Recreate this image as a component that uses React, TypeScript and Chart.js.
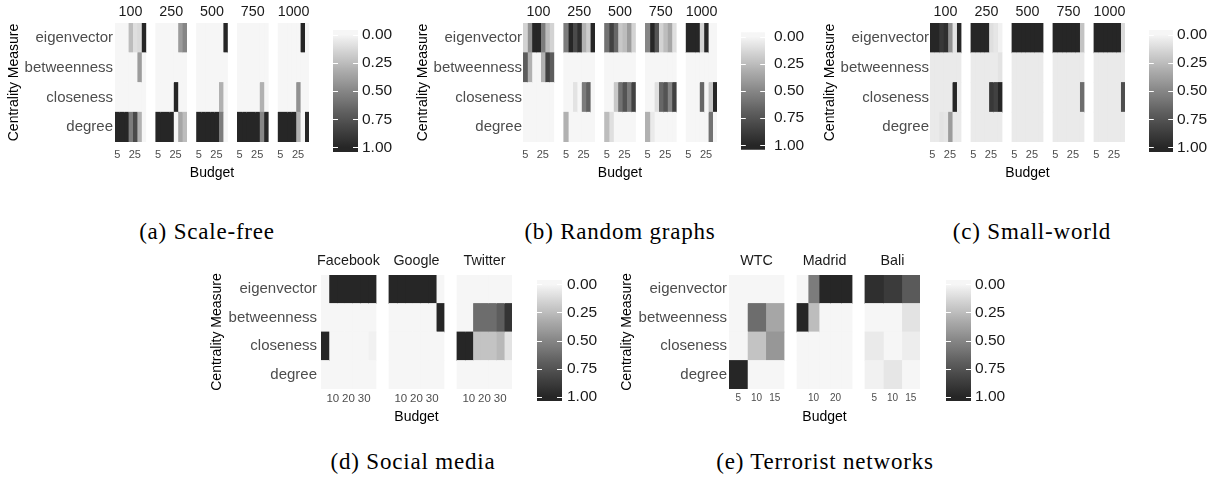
import React, { useEffect, useRef } from 'react';
import { Chart, registerables } from 'chart.js';

Chart.register(...registerables);

const SANS = "'Liberation Sans', Arial, Helvetica, sans-serif";
const SERIF = "'Liberation Serif', 'Times New Roman', serif";
Chart.defaults.font.family = SANS;

// ---------------- DATA ----------------
const MEASURES = ['eigenvector', 'betweenness', 'closeness', 'degree'];

const BUDGETS_7 = [5, 10, 15, 20, 25, 30, 35];
const BUDGETS_3 = [5, 10, 15];
const BUDGETS_5 = [5, 10, 15, 20, 25];

const TICKS_SYN = [5, 25];
const TICKS_SOCIAL = [10, 20, 30];
const TICKS_WTC = [5, 10, 15];
const TICKS_MADRID = [10, 20];
const TICKS_BALI = [5, 10, 15];

const NODE_LABELS = ['100', '250', '500', '750', '1000'];
const SOCIAL_LABELS = ['Facebook', 'Google', 'Twitter'];
const TERROR_LABELS = ['WTC', 'Madrid', 'Bali'];
const LEGEND_BREAKS = [0, 0.25, 0.5, 0.75, 1];

const CAPTIONS = ['(a) Scale-free', '(b) Random graphs', '(c) Small-world', '(d) Social media', '(e) Terrorist networks'];

// rows: eigenvector, betweenness, closeness, degree ; columns: budgets
// (a) Scale-free
const SF_100 = [
  [0, 0, 0, 0.25, 0.1, 0.12, 1],
  [0, 0, 0, 0, 0, 0.4, 0],
  [0, 0, 0, 0, 0, 0, 0],
  [1, 1, 1, 0.55, 0.8, 0.3, 0],
];
const SF_250 = [
  [0, 0, 0, 0, 0, 0.4, 0.5],
  [0, 0, 0, 0, 0, 0, 0],
  [0, 0, 0, 0, 1, 0, 0],
  [1, 1, 1, 1, 0, 0.35, 0.25],
];
const SF_500 = [
  [0, 0, 0, 0, 0, 0, 1],
  [0, 0, 0, 0, 0, 0, 0],
  [0, 0, 0, 0, 0, 0.3, 0],
  [1, 1, 1, 1, 1, 0.55, 0],
];
const SF_750 = [
  [0, 0, 0, 0, 0, 0, 0],
  [0, 0, 0, 0, 0, 0, 0],
  [0, 0, 0, 0, 0, 0.3, 0],
  [1, 1, 1, 1, 1, 0.5, 1],
];
const SF_1000 = [
  [0, 0, 0, 0, 0, 1, 0],
  [0, 0, 0, 0, 0, 0, 0],
  [0, 0, 0, 0, 0.45, 0, 0],
  [1, 1, 1, 1, 0.3, 0, 1],
];

// (b) Random graphs
const RG_100 = [
  [0.15, 0.45, 1, 1, 0.55, 0.25, 0.15],
  [0.7, 0.3, 0, 0, 0.3, 0.85, 0.7],
  [0, 0, 0, 0, 0, 0, 0],
  [0, 0, 0, 0, 0, 0, 0],
];
const RG_250 = [
  [0.55, 1, 0.8, 0.95, 0.3, 0.18, 1],
  [0, 0, 0, 0, 0, 0, 0],
  [0, 0, 0.08, 0, 0.55, 0.68, 0],
  [0.3, 0, 0, 0, 0, 0, 0],
];
const RG_500 = [
  [0.6, 0.85, 0.65, 0.2, 0.25, 0.4, 0.15],
  [0, 0, 0, 0, 0, 0, 0],
  [0, 0, 0.2, 0.6, 0.75, 0.55, 0.85],
  [0.25, 0.1, 0, 0, 0, 0, 0],
];
const RG_750 = [
  [0.5, 1, 0.75, 0.15, 0.25, 0.35, 0.1],
  [0, 0, 0, 0, 0, 0, 0],
  [0, 0, 0.1, 0.65, 0.75, 0.5, 0.85],
  [0.3, 0.05, 0, 0, 0, 0, 0],
];
const RG_1000 = [
  [1, 1, 1, 0.15, 1, 0, 0],
  [0, 0, 0, 0, 0, 0, 0],
  [0, 0, 0, 0.65, 0, 0.2, 1],
  [0, 0, 0, 0, 0, 0.6, 0],
];

// (c) Small-world
const SW_100 = [
  [1, 1, 0.9, 0.95, 0.45, 0.08, 1],
  [0.05, 0.05, 0.05, 0.05, 0.05, 0.05, 0.05],
  [0.05, 0.05, 0.05, 0.05, 0.05, 1, 0.05],
  [0.05, 0.05, 0.08, 0.07, 0.4, 0.05, 0.05],
];
const SW_250 = [
  [1, 1, 1, 1, 0.1, 0.07, 0.02],
  [0.05, 0.05, 0.05, 0.05, 0.05, 0.05, 0.08],
  [0.05, 0.05, 0.05, 0.05, 0.9, 0.85, 1],
  [0.05, 0.05, 0.05, 0.05, 0.05, 0.05, 0.05],
];
const SW_500 = [
  [1, 1, 1, 1, 1, 1, 1],
  [0.05, 0.05, 0.05, 0.05, 0.05, 0.05, 0.05],
  [0.05, 0.05, 0.05, 0.05, 0.05, 0.05, 0.05],
  [0.05, 0.05, 0.05, 0.05, 0.05, 0.05, 0.05],
];
const SW_750 = [
  [1, 1, 1, 1, 1, 1, 0.22],
  [0.05, 0.05, 0.05, 0.05, 0.05, 0.05, 0.05],
  [0.05, 0.05, 0.05, 0.05, 0.05, 0.05, 0.62],
  [0.05, 0.05, 0.05, 0.05, 0.05, 0.05, 0.05],
];
const SW_1000 = [
  [1, 1, 1, 1, 1, 1, 0.12],
  [0.05, 0.05, 0.05, 0.05, 0.05, 0.05, 0.05],
  [0.05, 0.05, 0.05, 0.05, 0.05, 0.05, 0.78],
  [0.05, 0.05, 0.05, 0.05, 0.05, 0.05, 0.05],
];

// (d) Social media
const SM_FACEBOOK = [
  [0, 1, 1, 1, 1, 1, 1],
  [0, 0, 0, 0, 0, 0, 0],
  [1, 0, 0, 0, 0, 0, 0.02],
  [0, 0, 0, 0, 0, 0, 0],
];
const SM_GOOGLE = [
  [1, 1, 1, 1, 1, 1, 0],
  [0, 0, 0, 0, 0, 0, 1],
  [0, 0, 0, 0, 0, 0, 0],
  [0, 0, 0, 0, 0, 0, 0],
];
const SM_TWITTER = [
  [0, 0, 0, 0, 0, 0, 0],
  [0, 0, 0.62, 0.62, 0.62, 0.7, 0.92],
  [1, 1, 0.22, 0.22, 0.22, 0.27, 0.08],
  [0, 0, 0, 0, 0, 0, 0],
];

// (e) Terrorist networks
const TN_WTC = [
  [0, 0, 0],
  [0, 0.62, 0.35],
  [0, 0.22, 0.42],
  [1, 0, 0],
];
const TN_MADRID = [
  [0, 0.55, 1, 1, 1],
  [1, 0.25, 0, 0, 0],
  [0, 0, 0, 0, 0],
  [0, 0, 0, 0, 0],
];
const TN_BALI = [
  [0.95, 0.88, 0.72],
  [0, 0, 0.08],
  [0.05, 0, 0.04],
  [0.02, 0.07, 0],
];

// ---------------- FIGURE DEFINITIONS ----------------
const FIG_A = {
  names: NODE_LABELS,
  values: [SF_100, SF_250, SF_500, SF_750, SF_1000],
  budgets: [BUDGETS_7, BUDGETS_7, BUDGETS_7, BUDGETS_7, BUDGETS_7],
  ticks: [TICKS_SYN, TICKS_SYN, TICKS_SYN, TICKS_SYN, TICKS_SYN],
};
const FIG_B = {
  names: NODE_LABELS,
  values: [RG_100, RG_250, RG_500, RG_750, RG_1000],
  budgets: [BUDGETS_7, BUDGETS_7, BUDGETS_7, BUDGETS_7, BUDGETS_7],
  ticks: [TICKS_SYN, TICKS_SYN, TICKS_SYN, TICKS_SYN, TICKS_SYN],
};
const FIG_C = {
  names: NODE_LABELS,
  values: [SW_100, SW_250, SW_500, SW_750, SW_1000],
  budgets: [BUDGETS_7, BUDGETS_7, BUDGETS_7, BUDGETS_7, BUDGETS_7],
  ticks: [TICKS_SYN, TICKS_SYN, TICKS_SYN, TICKS_SYN, TICKS_SYN],
};
const FIG_D = {
  names: SOCIAL_LABELS,
  values: [SM_FACEBOOK, SM_GOOGLE, SM_TWITTER],
  budgets: [BUDGETS_7, BUDGETS_7, BUDGETS_7],
  ticks: [TICKS_SOCIAL, TICKS_SOCIAL, TICKS_SOCIAL],
};
const FIG_E = {
  names: TERROR_LABELS,
  values: [TN_WTC, TN_MADRID, TN_BALI],
  budgets: [BUDGETS_3, BUDGETS_5, BUDGETS_3],
  ticks: [TICKS_WTC, TICKS_MADRID, TICKS_BALI],
};

// ---------------- LAYOUT ----------------
const HEAT_LAYOUTS = [
  { cx: 0, cy: 0, cw: 318, ch: 186, l: 115, r: 309, t: 23, b: 142, gap: 10, yTitleX: 14, rowPad: 2, tickPad: 6, tickFont: 11, stripY: 12, budgetY: 173 },
  { cx: 405, cy: 0, cw: 318, ch: 186, l: 523, r: 717, t: 23, b: 142, gap: 10, yTitleX: 423, rowPad: 1, tickPad: 6, tickFont: 11, stripY: 12, budgetY: 173 },
  { cx: 815, cy: 0, cw: 318, ch: 186, l: 930, r: 1125, t: 23, b: 142, gap: 10, yTitleX: 830, rowPad: 1, tickPad: 6, tickFont: 11, stripY: 12, budgetY: 173 },
  { cx: 200, cy: 246, cw: 318, ch: 184, l: 321, r: 512, t: 275, b: 389, gap: 13, yTitleX: 217, rowPad: 4, tickPad: 2.5, tickFont: 11.5, stripY: 261, budgetY: 417 },
  { cx: 600, cy: 246, cw: 326, ch: 184, l: 729, r: 920, t: 275, b: 389, gap: 13, yTitleX: 627, rowPad: 2, tickPad: 3, tickFont: 10, stripY: 261, budgetY: 417 },
];
const BAR_LAYOUTS = [
  { l: 333, r: 358, t: 30, b: 152, pad: 4 },
  { l: 741, r: 765, t: 30, b: 152, pad: 9 },
  { l: 1149, r: 1173, t: 30, b: 152, pad: 4 },
  { l: 537, r: 562, t: 280, b: 401, pad: 5 },
  { l: 946, r: 971, t: 280, b: 401, pad: 4 },
];
const CAPTION_POS = [
  { x: 207, y: 231 },
  { x: 620, y: 231 },
  { x: 1032, y: 231 },
  { x: 413, y: 461 },
  { x: 825, y: 461 },
];
const FIGS = [FIG_A, FIG_B, FIG_C, FIG_D, FIG_E];

// ---------------- COLOUR ----------------
const LOW_GREY = 246;
const HIGH_GREY = 38;
function toL(c: number) {
  let v = c / 255;
  v = v <= 0.04045 ? v / 12.92 : Math.pow((v + 0.055) / 1.055, 2.4);
  const f = v > 0.008856 ? Math.cbrt(v) : 7.787 * v + 16 / 116;
  return 116 * f - 16;
}
function fromL(L: number) {
  const fy = (L + 16) / 116;
  const y = fy * fy * fy > 0.008856 ? fy * fy * fy : (fy - 16 / 116) / 7.787;
  const v = y <= 0.0031308 ? 12.92 * y : 1.055 * Math.pow(y, 1 / 2.4) - 0.055;
  return Math.round(Math.max(0, Math.min(1, v)) * 255);
}
const L_LOW = toL(LOW_GREY);
const L_HIGH = toL(HIGH_GREY);
function fillFor(v: number) {
  const g = fromL(L_LOW + (L_HIGH - L_LOW) * v);
  return `rgb(${g},${g},${g})`;
}

// ---------------- CHART CONFIGS ----------------
const TITLE_FONT = 14;
const ROW_FONT = 15;
const STRIP_FONT = 14.3;
const LEGEND_FONT = 15.5;

function heatConfig(fig: any, L: any) {
  const n = fig.values.length;
  const panelPx = (L.r - L.l - (n - 1) * L.gap) / n;
  const g = L.gap / panelPx;
  const off = (p: number) => p * (1 + g);
  const xMax = off(n - 1) + 1;
  const datasets: any[] = [];
  fig.values.forEach((vals: number[][], p: number) => {
    const budgets = fig.budgets[p];
    const N = budgets.length;
    budgets.forEach((b: number, i: number) => {
      datasets.push({
        label: `${fig.names[p]} ${b}`,
        data: MEASURES.map(() => [off(p) + i / N, off(p) + (i + 1) / N]),
        backgroundColor: vals.map((row) => fillFor(row[i])),
        borderWidth: 0,
        grouped: false,
        barPercentage: 1,
        categoryPercentage: 1,
        inflateAmount: 0.4,
      });
    });
  });
  const bottomTicks: number[] = [];
  const bottomLabels: string[] = [];
  fig.ticks.forEach((tk: number[], p: number) => {
    const budgets = fig.budgets[p];
    const N = budgets.length;
    tk.forEach((t) => {
      const i = budgets.indexOf(t);
      bottomTicks.push(off(p) + (i + 0.5) / N);
      bottomLabels.push(String(t));
    });
  });
  const topTicks = fig.names.map((_: string, p: number) => off(p) + 0.5);
  const lhTitle = TITLE_FONT * 1.2;
  const lhStrip = STRIP_FONT * 1.2;
  const canvasBottom = L.cy + L.ch;

  return {
    type: 'bar',
    data: { labels: MEASURES, datasets },
    options: {
      indexAxis: 'y',
      responsive: false,
      animation: false,
      events: [],
      layout: { padding: { left: 0, top: 0, bottom: 0, right: L.cx + L.cw - L.r } },
      plugins: { legend: { display: false }, tooltip: { enabled: false } },
      scales: {
        x: {
          type: 'linear',
          position: 'bottom',
          min: 0,
          max: xMax,
          grid: { display: false, drawTicks: false },
          border: { display: false },
          afterBuildTicks: (s: any) => {
            s.ticks = bottomTicks.map((v) => ({ value: v }));
          },
          afterFit: (s: any) => {
            s.height = canvasBottom - L.b;
          },
          ticks: {
            autoSkip: false,
            maxRotation: 0,
            minRotation: 0,
            padding: L.tickPad,
            color: '#4d4d4d',
            font: { size: L.tickFont, family: SANS },
            callback: (_v: any, i: number) => bottomLabels[i],
          },
          title: {
            display: true,
            text: 'Budget',
            color: '#000000',
            font: { size: TITLE_FONT, family: SANS },
            padding: { top: 0, bottom: canvasBottom - L.budgetY - lhTitle / 2 },
          },
        },
        strip: {
          type: 'linear',
          axis: 'x',
          position: 'top',
          min: 0,
          max: xMax,
          grid: { display: false, drawTicks: false },
          border: { display: false },
          afterBuildTicks: (s: any) => {
            s.ticks = topTicks.map((v: number) => ({ value: v }));
          },
          afterFit: (s: any) => {
            s.height = L.t - L.cy;
          },
          ticks: {
            autoSkip: false,
            maxRotation: 0,
            minRotation: 0,
            padding: L.t - L.stripY - lhStrip / 2,
            color: '#1a1a1a',
            font: { size: STRIP_FONT, family: SANS },
            callback: (_v: any, i: number) => fig.names[i],
          },
        },
        y: {
          type: 'category',
          position: 'left',
          grid: { display: false, drawTicks: false },
          border: { display: false },
          afterFit: (s: any) => {
            s.width = L.l - L.cx;
          },
          ticks: {
            padding: L.rowPad,
            color: '#4d4d4d',
            font: { size: ROW_FONT, family: SANS },
          },
          title: {
            display: true,
            text: 'Centrality Measure',
            color: '#000000',
            font: { size: TITLE_FONT, family: SANS },
            padding: { top: L.yTitleX - L.cx - lhTitle / 2, bottom: 0 },
          },
        },
      },
    },
  };
}

const BAR_EXT = 0.04;
const BAR_PAD_V = 16;
const BAR_PAD_L = 2;
const BAR_LABEL_W = 52;

const colourBarTicks = {
  id: 'colourBarTicks',
  afterDatasetsDraw(chart: any) {
    const { ctx, chartArea: a, scales } = chart;
    const y = scales.y;
    const len = (a.right - a.left) / 5;
    ctx.save();
    ctx.strokeStyle = '#ffffff';
    ctx.lineWidth = 1.1;
    LEGEND_BREAKS.forEach((v) => {
      const py = Math.round(y.getPixelForValue(v)) + 0.5;
      ctx.beginPath();
      ctx.moveTo(a.left, py);
      ctx.lineTo(a.left + len, py);
      ctx.moveTo(a.right - len, py);
      ctx.lineTo(a.right, py);
      ctx.stroke();
    });
    ctx.restore();
  },
};

function barConfig(L: any) {
  return {
    type: 'bar',
    data: {
      labels: [''],
      datasets: [
        {
          data: [[-BAR_EXT, 1 + BAR_EXT]],
          backgroundColor: (c: any) => {
            const ch = c.chart;
            const ys = ch.scales && ch.scales.y;
            if (!ch.chartArea || !ys) return fillFor(0.5);
            const y0 = ys.getPixelForValue(0);
            const y1 = ys.getPixelForValue(1);
            const gr = ch.ctx.createLinearGradient(0, y0, 0, y1);
            for (let k = 0; k <= 20; k++) gr.addColorStop(k / 20, fillFor(k / 20));
            return gr;
          },
          borderWidth: 0,
          barPercentage: 1,
          categoryPercentage: 1,
        },
      ],
    },
    options: {
      responsive: false,
      animation: false,
      events: [],
      layout: { padding: { left: BAR_PAD_L, right: 0, top: BAR_PAD_V, bottom: BAR_PAD_V } },
      plugins: { legend: { display: false }, tooltip: { enabled: false } },
      scales: {
        x: { display: false },
        y: {
          type: 'linear',
          position: 'right',
          reverse: true,
          min: -BAR_EXT,
          max: 1 + BAR_EXT,
          grid: { display: false, drawTicks: false },
          border: { display: false },
          afterBuildTicks: (s: any) => {
            s.ticks = LEGEND_BREAKS.map((v) => ({ value: v }));
          },
          afterFit: (s: any) => {
            s.width = BAR_LABEL_W;
          },
          ticks: {
            padding: L.pad,
            color: '#1a1a1a',
            font: { size: LEGEND_FONT, family: SANS },
            callback: (v: any) => Number(v).toFixed(2),
          },
        },
      },
    },
    plugins: [colourBarTicks],
  };
}

// ---------------- COMPONENTS ----------------
function HeatChart({ fig, layout }: any) {
  const ref = useRef<HTMLCanvasElement | null>(null);
  useEffect(() => {
    const chart = new Chart(ref.current as any, heatConfig(fig, layout) as any);
    return () => chart.destroy();
  }, []);
  return (
    <canvas
      ref={ref}
      width={layout.cw}
      height={layout.ch}
      style={{ position: 'absolute', left: layout.cx, top: layout.cy, width: layout.cw, height: layout.ch }}
    />
  );
}

function ColourBar({ layout }: any) {
  const ref = useRef<HTMLCanvasElement | null>(null);
  const w = BAR_PAD_L + (layout.r - layout.l) + BAR_LABEL_W;
  const h = layout.b - layout.t + 2 * BAR_PAD_V;
  useEffect(() => {
    const chart = new Chart(ref.current as any, barConfig(layout) as any);
    return () => chart.destroy();
  }, []);
  return (
    <canvas
      ref={ref}
      width={w}
      height={h}
      style={{ position: 'absolute', left: layout.l - BAR_PAD_L, top: layout.t - BAR_PAD_V, width: w, height: h }}
    />
  );
}

export default function App() {
  return (
    <div style={{ position: 'absolute', left: 0, top: 0, width: 1225, height: 484, background: '#ffffff', overflow: 'hidden' }}>
      {FIGS.map((f, i) => (
        <HeatChart key={`h${i}`} fig={f} layout={HEAT_LAYOUTS[i]} />
      ))}
      {BAR_LAYOUTS.map((b, i) => (
        <ColourBar key={`c${i}`} layout={b} />
      ))}
      {CAPTIONS.map((c, i) => (
        <div
          key={`t${i}`}
          style={{
            position: 'absolute',
            left: CAPTION_POS[i].x,
            top: CAPTION_POS[i].y,
            transform: 'translate(-50%, -50%)',
            whiteSpace: 'nowrap',
            fontFamily: SERIF,
            fontSize: 23,
            letterSpacing: 0.8,
            lineHeight: 1,
            color: '#000',
          }}
        >
          {c}
        </div>
      ))}
    </div>
  );
}
